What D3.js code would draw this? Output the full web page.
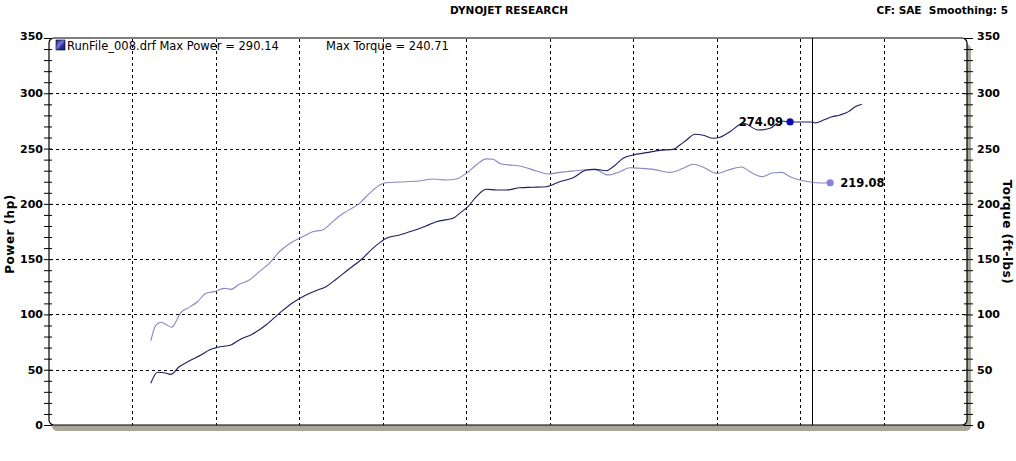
<!DOCTYPE html>
<html><head><meta charset="utf-8">
<script src="https://cdn.jsdelivr.net/npm/d3@7"></script>
<style>body{margin:0;background:#fff;} svg{display:block;} .pre{white-space:pre;}</style>
</head><body><svg id="c" width="1016" height="461"></svg>
<script>
// ---- data ----
const titleText = "DYNOJET RESEARCH";
const cfText = "CF: SAE  Smoothing: 5";
const legendRun = "RunFile_008.drf Max Power = 290.14";
const legendTorque = "Max Torque = 240.71";
const yAxisLeftLabel = "Power (hp)";
const yAxisRightLabel = "Torque (ft-lbs)";
const yTickValues = [0, 50, 100, 150, 200, 250, 300, 350];
const xGridValues = [1, 2, 3, 4, 5, 6, 7, 8, 9, 10];
const xDomain = [0, 11];
const yDomain = [0, 350];
const cursorX = 9.14;

const powerX = [1.22,1.30,1.38,1.46,1.56,1.68,1.82,1.92,2.02,2.18,2.28,2.44,2.60,2.76,2.92,3.08,3.20,3.32,3.44,3.58,3.76,3.88,3.98,4.04,4.20,4.36,4.52,4.64,4.84,4.92,5.02,5.12,5.24,5.36,5.48,5.64,5.80,5.96,6.12,6.28,6.44,6.54,6.68,6.76,6.88,7.00,7.16,7.32,7.48,7.56,7.64,7.74,7.84,7.96,8.04,8.16,8.32,8.50,8.64,8.78,8.88,9.14,9.18,9.28,9.38,9.48,9.58,9.66,9.74];
const powerY = [37.7,47.7,47.3,45.8,52.7,57.9,63.3,67.8,70.3,72.4,76.9,82.3,90.4,101.0,110.6,117.6,121.5,125.1,131.8,140.2,150.8,159.8,165.8,168.8,171.8,175.7,180.0,183.9,186.9,191.4,197.4,206.5,213.2,212.5,212.5,214.6,215.0,215.5,220.0,223.7,230.6,231.2,230.0,233.6,241.2,244.2,246.3,248.4,249.3,253.2,257.8,262.9,262.0,259.3,260.2,265.3,272.9,266.8,268.3,275.0,274.09,274.0,273.2,275.8,278.8,280.4,283.4,287.9,290.14];

const torqueX = [1.22,1.28,1.34,1.40,1.47,1.52,1.58,1.68,1.78,1.88,1.98,2.10,2.18,2.28,2.40,2.52,2.64,2.76,2.90,3.04,3.16,3.28,3.40,3.48,3.56,3.72,3.84,3.98,4.04,4.28,4.44,4.60,4.76,4.88,5.00,5.12,5.24,5.32,5.42,5.56,5.68,5.84,5.98,6.12,6.20,6.40,6.54,6.70,6.84,6.96,7.08,7.24,7.44,7.60,7.72,7.84,8.00,8.14,8.30,8.40,8.54,8.68,8.78,8.88,9.00,9.14,9.24,9.36];
const torqueY = [76.0,90.4,92.9,91.0,88.4,93.4,101.6,106.4,111.5,119.1,120.6,123.6,122.7,127.2,131.1,138.7,146.2,156.7,164.9,170.3,174.8,176.4,183.9,189.0,193.0,200.5,209.5,217.7,219.1,220.0,220.7,222.5,221.6,222.5,227.6,235.1,240.71,240.3,236.0,234.9,233.6,229.7,227.0,228.5,229.1,230.6,231.2,226.1,229.1,232.7,232.2,231.2,228.5,232.2,235.8,233.1,227.6,230.6,233.4,229.0,224.6,228.2,228.5,224.6,221.6,219.5,218.9,219.08];

const markerX = [8.88, 9.36];
const markerY = [274.09, 219.08];
const markerLabels = ["274.09", "219.08"];

// ---- layout ----
const svg = d3.select("#c");
const L = 49, R = 967, T = 38, B = 425;
const x = d3.scaleLinear().domain(xDomain).range([L, R]);
const y = d3.scaleLinear().domain(yDomain).range([B, T]);

const powerColor = "#1e1e5e", torqueColor = "#8888c4";
const markerColors = ["#0a0ab4", "#8282e0"];
const shadow = "#a9a797";

// titles
svg.append("text").attr("x", 509).attr("y", 14).attr("text-anchor", "middle")
  .attr("font-family", "DejaVu Sans").attr("font-weight", "bold").attr("font-size", 10.5)
  .text(titleText);
svg.append("text").attr("class", "pre").attr("x", 1008).attr("y", 14).attr("text-anchor", "end")
  .attr("font-family", "DejaVu Sans").attr("font-weight", "bold").attr("font-size", 10.5)
  .text(cfText);

// frame shadow + box
svg.append("rect").attr("x", L + 3).attr("y", T + 6).attr("width", R - L + 1).attr("height", B - T)
  .attr("rx", 5).attr("fill", shadow);
svg.append("rect").attr("x", L).attr("y", T).attr("width", R - L).attr("height", B - T)
  .attr("rx", 5).attr("fill", "#fff").attr("stroke", "#000").attr("stroke-width", 1.2);

// grid
const g = svg.append("g");
g.selectAll(".hg").data(yTickValues.filter(v => v > 0 && v < 350)).join("line")
  .attr("x1", L + 1).attr("x2", R - 1).attr("y1", d => Math.round(y(d)) + 0.5).attr("y2", d => Math.round(y(d)) + 0.5)
  .attr("stroke", "#000").attr("stroke-dasharray", "3,3");
g.selectAll(".vg").data(xGridValues).join("line")
  .attr("y1", T + 1).attr("y2", B).attr("x1", d => Math.round(x(d)) + 0.5).attr("x2", d => Math.round(x(d)) + 0.5)
  .attr("stroke", "#000").attr("stroke-dasharray", "3,3");

// cursor
svg.append("line").attr("x1", Math.round(x(cursorX)) + 0.5).attr("x2", Math.round(x(cursorX)) + 0.5)
  .attr("y1", T).attr("y2", B).attr("stroke", "#000").attr("stroke-width", 1);

// minor/major ticks
const minor = d3.range(0, 351, 10);
const axL = svg.append("g").attr("transform", `translate(${L + 3},0)`)
  .call(d3.axisLeft(y).tickValues(minor).tickSize(8).tickFormat(""));
axL.select(".domain").remove();
axL.selectAll("line").attr("stroke", "#000");
const axR = svg.append("g").attr("transform", `translate(${R - 3},0)`)
  .call(d3.axisRight(y).tickValues(minor).tickSize(9).tickFormat(""));
axR.select(".domain").remove();
axR.selectAll("line").attr("stroke", "#000");

// tick labels
const lblL = svg.append("g").attr("transform", `translate(43,0)`)
  .call(d3.axisLeft(y).tickValues(yTickValues).tickSize(0).tickPadding(0).tickFormat(d3.format("d")));
lblL.select(".domain").remove();
lblL.selectAll("text").attr("font-family", "DejaVu Sans").attr("font-weight", "bold").attr("font-size", 11).attr("fill", "#000");
const lblR = svg.append("g").attr("transform", `translate(977,0)`)
  .call(d3.axisRight(y).tickValues(yTickValues).tickSize(0).tickPadding(0).tickFormat(d3.format("d")));
lblR.select(".domain").remove();
lblR.selectAll("text").attr("font-family", "DejaVu Sans").attr("font-weight", "bold").attr("font-size", 11).attr("fill", "#000");
lblL.selectAll(".tick text").attr("dy", d => d === 350 ? "0.1em" : "0.32em");
lblR.selectAll(".tick text").attr("dy", d => d === 350 ? "0.1em" : "0.32em");

// axis titles
svg.append("text").attr("transform", "translate(14,234) rotate(-90)").attr("text-anchor", "middle")
  .attr("font-family", "DejaVu Sans").attr("font-weight", "bold").attr("font-size", 12)
  .attr("letter-spacing", 0.5).text(yAxisLeftLabel);
svg.append("text").attr("transform", "translate(1003,232) rotate(90)").attr("text-anchor", "middle")
  .attr("font-family", "DejaVu Sans").attr("font-weight", "bold").attr("font-size", 12)
  .attr("letter-spacing", 0.5).text(yAxisRightLabel);

// lines
const line = d3.line().x(d => x(d[0])).y(d => y(d[1])).curve(d3.curveMonotoneX);
svg.append("path").datum(d3.zip(torqueX, torqueY)).attr("d", line)
  .attr("fill", "none").attr("stroke", torqueColor).attr("stroke-width", 1.1);
svg.append("path").datum(d3.zip(powerX, powerY)).attr("d", line)
  .attr("fill", "none").attr("stroke", powerColor).attr("stroke-width", 1.1);

// markers
const mk = svg.selectAll(".mk").data(d3.range(markerX.length)).join("g");
mk.append("circle").attr("cx", i => x(markerX[i])).attr("cy", i => y(markerY[i])).attr("r", 3.6)
  .attr("fill", i => markerColors[i]);
mk.append("text")
  .attr("x", i => i === 0 ? x(markerX[i]) - 7 : x(markerX[i]) + 10)
  .attr("y", i => y(markerY[i]) + 4.5)
  .attr("text-anchor", i => i === 0 ? "end" : "start")
  .attr("font-family", "DejaVu Sans").attr("font-weight", "bold").attr("font-size", 11.5)
  .attr("fill", "#000").text(i => markerLabels[i]);

// legend
const grad = svg.append("defs").append("linearGradient").attr("id", "lg")
  .attr("x1", "0").attr("y1", "0").attr("x2", "1").attr("y2", "1");
grad.append("stop").attr("offset", "0").attr("stop-color", "#20208a");
grad.append("stop").attr("offset", "0.45").attr("stop-color", "#7878e0");
grad.append("stop").attr("offset", "0.6").attr("stop-color", "#30309a");
grad.append("stop").attr("offset", "1").attr("stop-color", "#1a1a7a");
svg.append("rect").attr("x", 56).attr("y", 40).attr("width", 9).attr("height", 10)
  .attr("fill", "url(#lg)").attr("stroke", "#000").attr("stroke-width", 0.6);
svg.append("text").attr("x", 67).attr("y", 50)
  .attr("font-family", "DejaVu Sans").attr("font-size", 11.5).attr("fill", "#000").text(legendRun);
svg.append("text").attr("x", 326).attr("y", 50)
  .attr("font-family", "DejaVu Sans").attr("font-size", 11.5).attr("fill", "#000").text(legendTorque);
</script></body></html>
